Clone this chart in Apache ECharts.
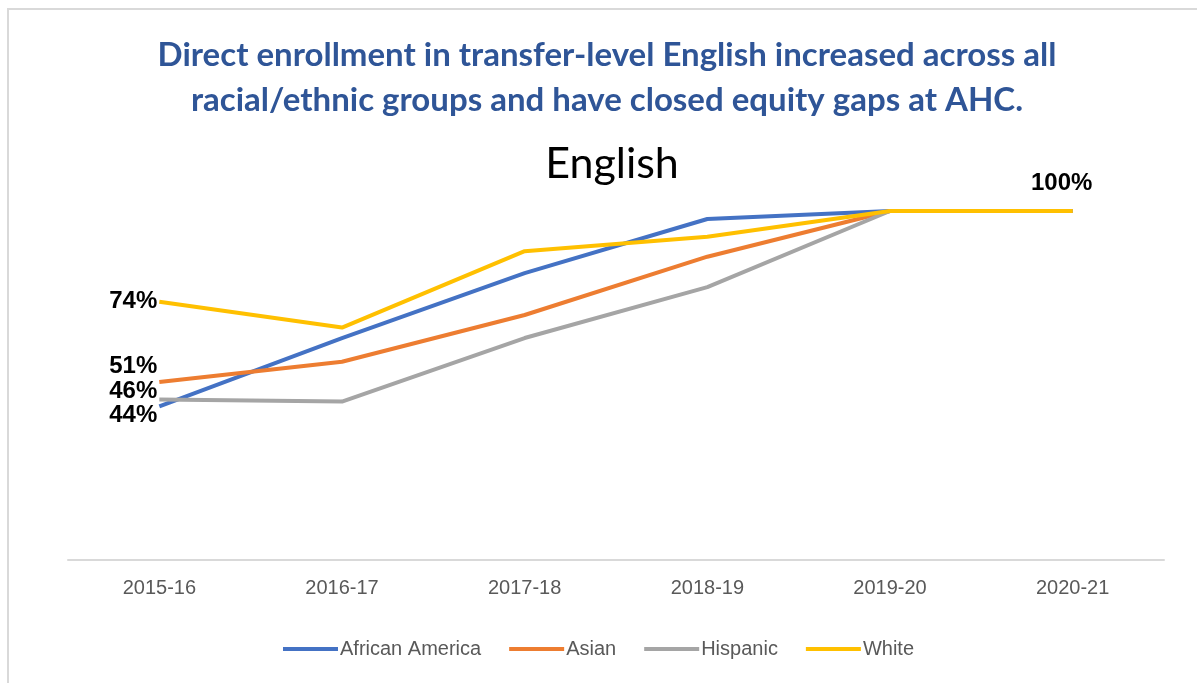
<!DOCTYPE html>
<html><head><meta charset="utf-8">
<script src="https://cdn.jsdelivr.net/npm/echarts@6/dist/echarts.min.js"></script>
<style>html,body{margin:0;padding:0;background:#fff}#c{width:1197px;height:683px}</style>
</head><body><div id="c"></div>
<script>
const categories = ['2015-16','2016-17','2017-18','2018-19','2019-20','2020-21'];
const seriesNames = ['African America','Asian','Hispanic','White'];
const africanAmerica = [44, 63.6, 82.2, 97.7, 100, 100];
const asian = [51, 56.8, 70.2, 86.9, 100, 100];
const hispanic = [46, 45.4, 63.6, 78.2, 100, 100];
const white = [74, 66.6, 88.5, 92.6, 100, 100];
const colors = ['#4472C4','#ED7D31','#A5A5A5','#FFC000'];
const titleText = 'Direct enrollment in transfer-level English increased across all\nracial/ethnic groups and have closed equity gaps at AHC.';
const subTitleText = 'English';

const labelFont = {fontFamily:'Liberation Sans', fontWeight:'bold', fontSize:24, color:'#000'};
const firstLabelOffsets = {'African America':[0,9], 'Asian':[0,-16], 'Hispanic':[0,-8], 'White':[0,0]};
const firstLabelText = {'African America':'44%','Asian':'51%','Hispanic':'46%','White':'74%'};

function makeData(name, arr){
  return arr.map((v,i)=>{
    const d = {value:v};
    if(i===0){
      d.label = Object.assign({show:true, position:'left', distance:2, offset:firstLabelOffsets[name], formatter:firstLabelText[name]}, labelFont);
    }
    if(i===arr.length-1 && name==='White'){
      d.label = Object.assign({show:true, position:'top', distance:16, offset:[-11,0], formatter:'100%'}, labelFont);
    }
    return d;
  });
}
const dataArrays = [africanAmerica, asian, hispanic, white];

const chart = echarts.init(document.getElementById('c'));
chart.setOption({
  animation:false,
  backgroundColor:'#fff',
  color: colors,
  title:[
    {text:titleText, left:602, textAlign:'center', top:28, textStyle:{fontFamily:'Lato', fontWeight:'bold', fontSize:33, color:'#2F5597', lineHeight:45}},
    {text:subTitleText, left:607, textAlign:'center', top:138, textStyle:{fontFamily:'Lato', fontWeight:'normal', fontSize:43, color:'#000'}}
  ],
  graphic:[
    {type:'polyline', shape:{points:[[8,683],[8,9],[1197,9]]}, style:{stroke:'#D9D9D9', lineWidth:2, fill:null}}
  ],
  legend:{
    data: seriesNames, bottom:19, left:'center',
    icon:'rect', itemWidth:55, itemHeight:4, itemGap:28,
    textStyle:{fontFamily:'Liberation Sans', fontSize:20, color:'#595959', padding:[0,0,0,-3]}
  },
  grid:{left:68, right:33, top:211, bottom:123},
  xAxis:{
    type:'category', data:categories, boundaryGap:true,
    axisLine:{lineStyle:{color:'#D9D9D9', width:2}},
    axisTick:{show:false},
    axisLabel:{fontFamily:'Liberation Sans', fontSize:20, color:'#595959', margin:18}
  },
  yAxis:{type:'value', min:0, max:100, show:false, splitLine:{show:false}},
  series: seriesNames.map((n,i)=>({
    name:n, type:'line', data:makeData(n, dataArrays[i]),
    symbol:'circle', symbolSize:0.1, showSymbol:true,
    emphasis:{disabled:true},
    lineStyle:{width:4, color:colors[i]}, itemStyle:{color:colors[i]}
  }))
});
</script></body></html>
